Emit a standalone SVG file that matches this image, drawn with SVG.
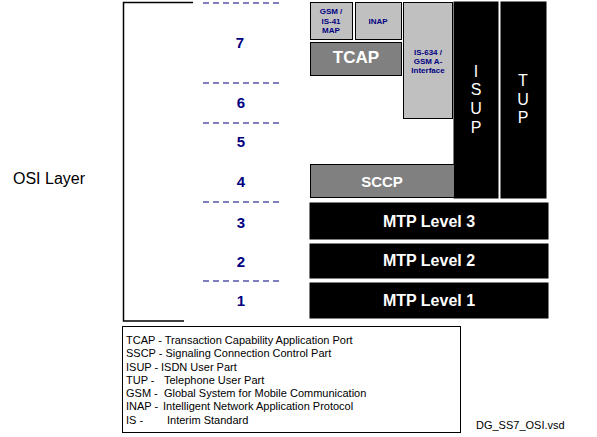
<svg xmlns="http://www.w3.org/2000/svg" width="597" height="437" viewBox="0 0 597 437">
<style>
text{font-family:"Liberation Sans",Arial,sans-serif}
.num{fill:#000080;font-size:15px;font-weight:bold;text-anchor:middle}
.dash{stroke:#000080;stroke-width:1.2;stroke-dasharray:6,4;fill:none}
.lg{fill:#C0C0C0;stroke:#000;stroke-width:1}
.dg{fill:#808080;stroke:#000;stroke-width:1}
.bk{fill:#000;stroke:#000}
.small{fill:#000080;font-size:8px;font-weight:bold;text-anchor:middle}
.wt{fill:#fff;font-weight:bold;text-anchor:middle}
.vl{fill:#fff;font-size:16px;text-anchor:middle}
.leg{font-size:11px;fill:#000}
</style>
<rect width="597" height="437" fill="#fff"/>
<g id="bracket"><path d="M193,2.5 H123.5 V321 H184" fill="none" stroke="#000" stroke-width="1.5"/></g>
<text x="13" y="184" font-size="16" fill="#000">OSI Layer</text>
<g id="dividers">
<line class="dash" x1="203" y1="3" x2="283" y2="3"/>
<line class="dash" x1="203" y1="83" x2="283" y2="83"/>
<line class="dash" x1="203" y1="123" x2="283" y2="123"/>
<line class="dash" x1="203" y1="202" x2="283" y2="202"/>
<line class="dash" x1="203" y1="281" x2="283" y2="281"/>
</g>
<g id="numbers">
<text class="num" x="240" y="48">7</text>
<text class="num" x="241" y="108">6</text>
<text class="num" x="241" y="147">5</text>
<text class="num" x="241" y="187">4</text>
<text class="num" x="241" y="228">3</text>
<text class="num" x="241" y="267">2</text>
<text class="num" x="241" y="306">1</text>
</g>
<g id="gsm-map"><rect class="lg" x="310.5" y="2.5" width="42" height="37"/>
<text class="small" x="331" y="14">GSM /</text><text class="small" x="331" y="24">IS-41</text><text class="small" x="331" y="33">MAP</text></g>
<g id="inap"><rect class="lg" x="355.5" y="2.5" width="46" height="37"/><text class="small" x="378" y="24">INAP</text></g>
<g id="tcap"><rect class="dg" x="310.5" y="42.5" width="91" height="33"/><text class="wt" x="356" y="63" font-size="17">TCAP</text></g>
<g id="is634"><rect class="lg" x="403.5" y="2.5" width="49" height="116"/>
<text class="small" x="428" y="55">IS-634 /</text><text class="small" x="428" y="64">GSM A-</text><text class="small" x="428" y="73">Interface</text></g>
<g id="isup"><rect class="bk" x="454" y="2" width="44" height="196"/>
<text class="vl" x="476" y="77">I</text>
<text class="vl" x="476" y="95">S</text>
<text class="vl" x="476" y="114">U</text>
<text class="vl" x="476" y="133">P</text></g>
<g id="tup"><rect class="bk" x="501" y="2" width="45" height="196"/>
<text class="vl" x="523" y="86">T</text>
<text class="vl" x="523" y="105">U</text>
<text class="vl" x="523" y="123">P</text></g>
<g id="sccp"><rect class="dg" x="310.5" y="164.5" width="144" height="33"/><text class="wt" x="382" y="187" font-size="15">SCCP</text></g>
<g id="mtp3"><rect class="bk" x="310" y="203" width="238" height="36"/><text class="wt" x="429" y="227" font-size="16">MTP Level 3</text></g>
<g id="mtp2"><rect class="bk" x="310" y="244" width="238" height="34"/><text class="wt" x="429" y="266" font-size="16">MTP Level 2</text></g>
<g id="mtp1"><rect class="bk" x="310" y="283" width="238" height="35"/><text class="wt" x="429" y="306" font-size="16">MTP Level 1</text></g>
<g id="legend"><rect x="122.5" y="326.5" width="338" height="106" fill="none" stroke="#000" stroke-width="1"/>
<text class="leg" x="126" y="344">TCAP - Transaction Capability Application Port</text>
<text class="leg" x="126" y="357">SSCP - Signaling Connection Control Part</text>
<text class="leg" x="126" y="371">ISUP -<tspan x="161">ISDN User Part</tspan></text>
<text class="leg" x="126" y="384">TUP -<tspan x="164">Telephone User Part</tspan></text>
<text class="leg" x="126" y="397">GSM -<tspan x="164">Global System for Mobile Communication</tspan></text>
<text class="leg" x="126" y="410">INAP -<tspan x="163">Intelligent Network Application Protocol</tspan></text>
<text class="leg" x="126" y="424">IS -<tspan x="167">Interim Standard</tspan></text>
</g>
<text x="476" y="429" font-size="11" fill="#000">DG_SS7_OSI.vsd</text>
</svg>
